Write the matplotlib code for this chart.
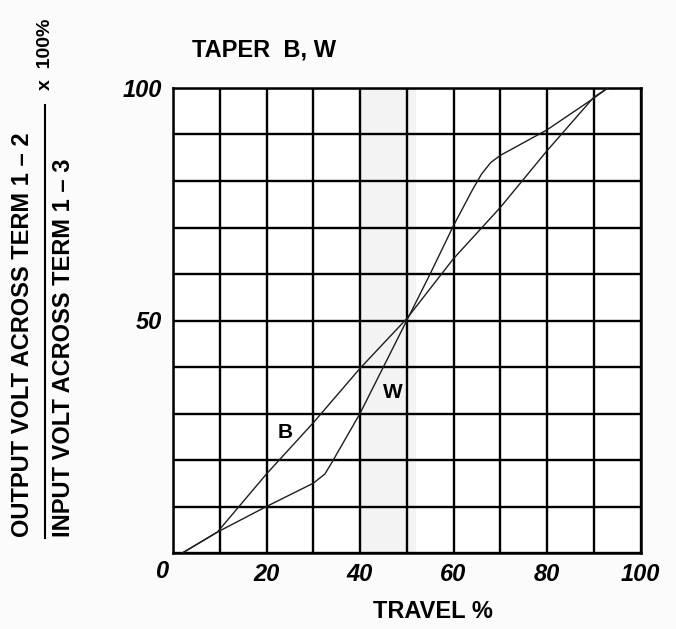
import matplotlib
matplotlib.use("Agg")
import matplotlib.pyplot as plt
from matplotlib.lines import Line2D

# ---- data ----
travel_w = [2, 9.5, 20, 30, 32.5, 34, 40, 45, 50, 55, 60, 64, 66, 68, 70, 80, 90, 93]
taper_w  = [0, 4.5, 10, 15, 17, 19.5, 30, 40, 50, 60, 70.4, 78, 81.5, 84, 85.5, 91, 97.8, 100]

travel_b = [2, 9.5, 20, 30, 40, 50, 60, 70, 80, 90, 93]
taper_b  = [0, 4.5, 17, 28, 39.7, 50.4, 63.3, 74.3, 86.5, 98, 100]

grid_vals = list(range(0, 101, 10))
x_tick_labels = {20: "20", 40: "40", 60: "60", 80: "80", 100: "100"}
y_tick_labels = {50: "50", 100: "100"}

W, H = 676, 629
fig = plt.figure(figsize=(W / 100, H / 100), dpi=100)
fig.patch.set_facecolor("#fbfbfb")

x0, x1 = 173, 640.5
y0, y1 = 553, 88
ax = fig.add_axes([x0 / W, 1 - y0 / H, (x1 - x0) / W, (y0 - y1) / H])
ax.set_facecolor("white")
ax.set_xlim(0, 100)
ax.set_ylim(0, 100)

# faint scan band
ax.axvspan(40, 52, color="#f3f3f3", zorder=0, lw=0)

ax.set_xticks(grid_vals, [x_tick_labels.get(v, "") for v in grid_vals])
ax.set_yticks(grid_vals, [y_tick_labels.get(v, "") for v in grid_vals])
ax.grid(True, color="black", lw=1.7, zorder=1)
ax.tick_params(length=0)
ax.tick_params(axis="x", pad=7)
ax.tick_params(axis="y", pad=8)
for lab in ax.get_xticklabels() + ax.get_yticklabels():
    lab.set_fontfamily("Liberation Sans")
    lab.set_fontstyle("italic")
    lab.set_fontweight("bold")
    lab.set_fontsize(17)
for s in ax.spines.values():
    s.set_color("black")
    s.set_linewidth(1.8)

ax.plot(travel_w, taper_w, color="#1e1e1e", lw=1.0, zorder=3)
ax.plot(travel_b, taper_b, color="#1e1e1e", lw=1.0, zorder=3)

ax.text(24, 26, "B", fontfamily="Liberation Sans", fontweight="bold",
        fontsize=15, ha="center", va="center", zorder=4)
ax.text(47, 34.5, "W", fontfamily="Liberation Sans", fontweight="bold",
        fontsize=15, ha="center", va="center", zorder=4)

def fx(px):
    return px / W

def fy(py):
    return 1 - py / H

# corner zero
fig.text(fx(162), fy(571), "0", fontfamily="Liberation Sans", fontstyle="italic",
         fontweight="bold", fontsize=17, ha="center", va="center")

# title
fig.text(fx(192), fy(50), "TAPER  B, W", fontfamily="Liberation Sans",
         fontweight="bold", fontsize=17, ha="left", va="center")

# x label
fig.text(fx(433), fy(611), "TRAVEL %", fontfamily="Liberation Sans",
         fontweight="bold", fontsize=17, ha="center", va="center")

# y label as fraction
fig.text(fx(23), fy(537), "OUTPUT VOLT ACROSS TERM 1 \u2013 2", fontfamily="Liberation Sans",
         fontweight="bold", fontsize=17, rotation=90, ha="center", va="bottom")
fig.text(fx(64), fy(537), "INPUT VOLT ACROSS TERM 1 \u2013 3", fontfamily="Liberation Sans",
         fontweight="bold", fontsize=17, rotation=90, ha="center", va="bottom")
fig.add_artist(Line2D([fx(45), fx(45)], [fy(538), fy(105)], color="black", lw=1.5,
                      transform=fig.transFigure))
fig.text(fx(45), fy(90), "x  100%", fontfamily="Liberation Sans",
         fontweight="bold", fontsize=14, rotation=90, ha="center", va="bottom")

fig.savefig("out.png", dpi=100, facecolor=fig.get_facecolor())
